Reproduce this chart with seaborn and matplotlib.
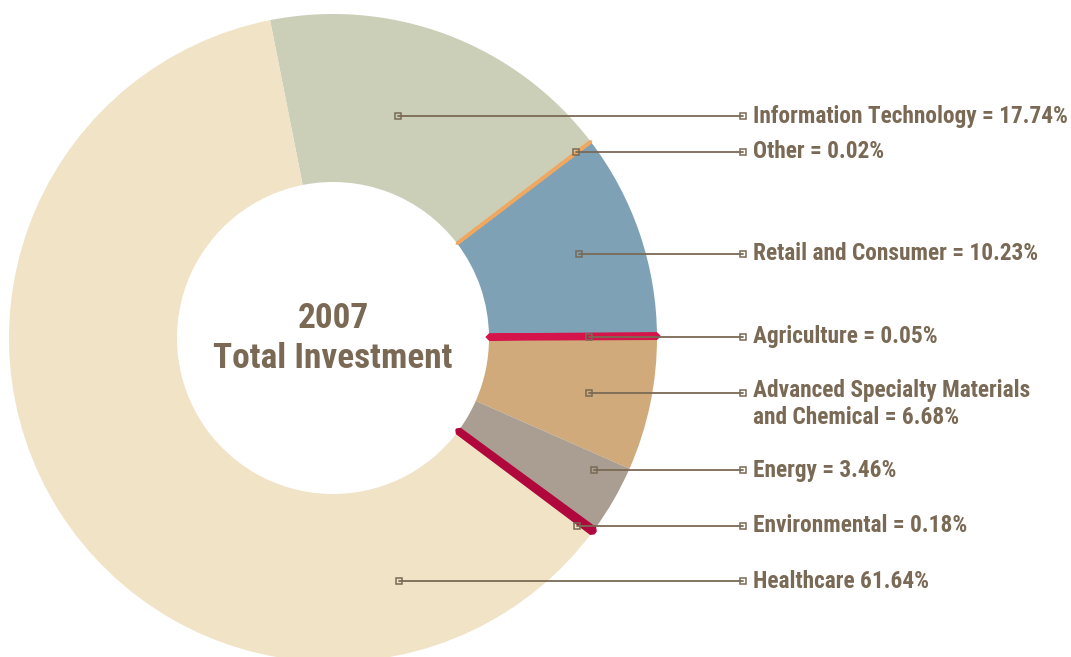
import matplotlib
matplotlib.use("Agg")
import matplotlib.pyplot as plt
from matplotlib.patches import Wedge
import seaborn as sns

# data
sectors = ["Information Technology", "Other", "Retail and Consumer", "Agriculture",
           "Advanced Specialty Materials\nand Chemical", "Energy", "Environmental", "Healthcare"]
shares = [17.74, 0.02, 10.23, 0.05, 6.68, 3.46, 0.18, 61.64]
labels = ["Information Technology = 17.74%", "Other = 0.02%", "Retail and Consumer = 10.23%",
          "Agriculture = 0.05%", "Advanced Specialty Materials\nand Chemical = 6.68%",
          "Energy = 3.46%", "Environmental = 0.18%", "Healthcare 61.64%"]
colors = ["#cbcfb7", "#f0a860", "#7fa1b6", "#d4144a", "#d0aa7a", "#aa9e92", "#b0073c", "#f0e3c6"]

# leader layout (pixel coords, y from top)
anchor_x = [398, 576, 579, 589, 589, 594, 577, 399]
label_y = [116, 152, 254, 337, 393, 470, 526, 581]

sns.set_theme(style="white")
plt.rcParams["font.family"] = ["Roboto Condensed", "DejaVu Sans"]
plt.rcParams["font.stretch"] = "condensed"
txt = "#7a6a55"

W, H = 1071, 657
fig = plt.figure(figsize=(W / 100, H / 100), dpi=100)
ax = fig.add_axes([0, 0, 1, 1])

cx, cy, R, r_in = 333, H - 338, 324, 156
wedges, _ = ax.pie(shares, colors=colors, radius=R, center=(cx, cy),
                   startangle=101.2, counterclock=False,
                   wedgeprops=dict(width=R - r_in, linewidth=0))
# the tiny slices are drawn thicker in the original, clipped to the ring
ring = Wedge((cx, cy), R, 0, 360, width=R - r_in)
ring.set_transform(ax.transData)
for w, s, c in zip(wedges, shares, colors):
    if s < 1:
        w.set_edgecolor(c)
        w.set_linewidth({0.02: 2.5, 0.05: 5, 0.18: 4.5}[s])
        w.set_joinstyle("bevel")
        w.set_zorder(3)
        w.set_clip_path(ring)

ax.set_xlim(0, W)
ax.set_ylim(0, H)
ax.set_aspect("equal")
ax.axis("off")

ax.text(cx, H - 318, "2007", ha="center", va="center", fontsize=25.5,
        fontweight="bold", color=txt)
ax.text(cx, H - 358, "Total Investment", ha="center", va="center", fontsize=25.5,
        fontweight="bold", color=txt)

for x0, y0, lab in zip(anchor_x, label_y, labels):
    y = H - y0
    ax.plot([x0, 743], [y, y], color=txt, lw=1.3, zorder=5)
    ax.plot([x0, 743], [y, y], ls="none", marker="s", ms=5, mfc="none",
            mec=txt, mew=1.1, zorder=6)
    if "\n" in lab:
        ax.text(753, y + 14, lab, ha="left", va="top", fontsize=16.8,
                fontweight="bold", color=txt, linespacing=1.2)
    else:
        ax.text(753, y, lab, ha="left", va="center", fontsize=16.8,
                fontweight="bold", color=txt)

fig.savefig("out.png", dpi=100)
